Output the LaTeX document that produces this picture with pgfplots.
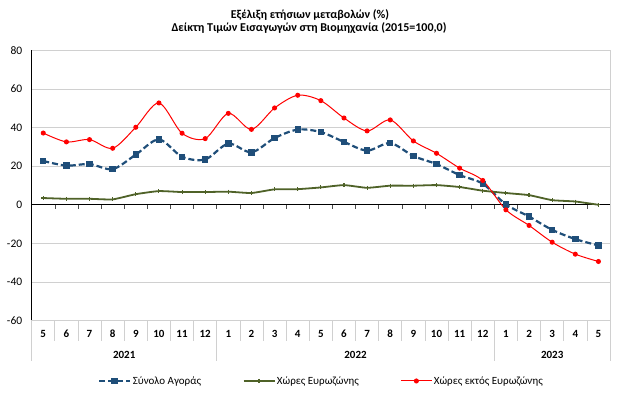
\documentclass[border=0pt]{standalone}
\usepackage{fontspec}
\setmainfont{Carlito}
\usepackage{pgfplots}
\pgfplotsset{compat=1.18}
\definecolor{cblue}{HTML}{1F4E79}
\definecolor{cgreen}{HTML}{4F6228}
\definecolor{cred}{HTML}{FF0000}
\definecolor{cgrid}{HTML}{D0D0D0}
\begin{document}
\begin{tikzpicture}[x=1pt,y=1pt]
\useasboundingbox (0,0) rectangle (623,393);
\node[font=\bfseries\fontsize{12}{14}\selectfont] at (310,378) {Εξέλιξη ετήσιων μεταβολών (\%)};
\node[font=\bfseries\fontsize{12}{14}\selectfont] at (309,364.5) {Δείκτη Τιμών Εισαγωγών στη Βιομηχανία (2015=100,0)};
\begin{axis}[
  at={(31.7pt,72.5pt)}, anchor=south west,
  scale only axis, width=578.3pt, height=270pt,
  xmin=-0.5, xmax=24.5, ymin=-60, ymax=80,
  ytick={-60,-40,...,80},
  yticklabels={{-60},{-40},{-20},0,20,40,60,80},
  xtick=\empty,
  ymajorgrids, grid style={cgrid, line width=0.7pt},
  axis line style={cgrid, line width=0.7pt},
  major tick length=0pt,
  ytick pos=left,
  yticklabel style={xshift=-6pt},
  tick label style={font=\fontsize{11.5}{13}\selectfont},
  clip=false,
  legend columns=3,
  legend style={at={(0.5006,-0.224)}, anchor=center, draw=none, fill=none,
    font=\fontsize{11}{13}\selectfont,
    nodes={inner sep=1.5pt},
    /tikz/every even column/.append style={column sep=40pt},
    /tikz/every odd column/.append style={column sep=0pt}},
  legend image code/.code={\draw[mark repeat=2,mark phase=2] plot coordinates {(0pt,0pt)(15.5pt,0pt)(31pt,0pt)};},
]
\draw[black, line width=0.7pt] (rel axis cs:0,0) -- (rel axis cs:0,1);
\draw[black, line width=0.9pt] (axis cs:-0.5,0) -- (axis cs:24.5,0);
\addplot[cblue, line width=2.2pt, dash pattern=on 6pt off 3pt, smooth, tension=0.5,
  mark=square*, mark size=2.1pt, mark options={solid, fill=cblue}] coordinates {
(0,22.7)(1,20.3)(2,21.1)(3,18.5)(4,26.0)(5,33.9)(6,24.9)(7,23.5)
(8,31.7)(9,27.2)(10,34.6)(11,39.0)(12,37.7)(13,32.6)(14,28.1)(15,32.0)
(16,25.3)(17,21.1)(18,15.4)(19,10.9)(20,0.2)(21,-6.1)(22,-13.0)(23,-17.8)(24,-21.1)};
\addlegendentry{Σύνολο Αγοράς}
\addplot[cgreen, line width=1.8pt, smooth, tension=0.3,
  mark=+, mark size=2pt, mark options={solid, line width=1.1pt}] coordinates {
(0,3.5)(1,3.1)(2,3.1)(3,2.8)(4,5.5)(5,7.1)(6,6.6)(7,6.6)
(8,6.8)(9,6.1)(10,8.0)(11,8.1)(12,9.0)(13,10.2)(14,8.8)(15,9.9)
(16,9.9)(17,10.2)(18,9.2)(19,7.3)(20,6.1)(21,5.0)(22,2.4)(23,1.7)(24,0.0)};
\addlegendentry{Χώρες Ευρωζώνης}
\addplot[cred, line width=1pt, smooth, tension=0.5,
  mark=*, mark size=2pt, mark options={solid, fill=cred}] coordinates {
(0,37.2)(1,32.6)(2,33.8)(3,29.3)(4,40.2)(5,52.8)(6,37.1)(7,34.3)
(8,47.4)(9,39.1)(10,50.2)(11,56.8)(12,54.0)(13,45.0)(14,38.3)(15,44.0)
(16,33.1)(17,26.7)(18,19.0)(19,12.6)(20,-2.6)(21,-10.7)(22,-19.4)(23,-25.6)(24,-29.4)};
\addlegendentry{Χώρες εκτός Ευρωζώνης}
\end{axis}
% zero-line category ticks
\foreach \i in {1,...,24} \draw[black!70, line width=0.6pt] ({31.7+23.132*\i},188.2) -- ++(0,-4);
% category separators
\foreach \i in {1,...,7,9,10,...,19,21,22,23,24} \draw[cgrid, line width=0.7pt] ({31.7+23.132*\i},72.5) -- ++(0,-20.5);
\foreach \i in {0,8,20,25} \draw[cgrid, line width=0.7pt] ({31.7+23.132*\i},72.5) -- ++(0,-41);
\foreach \m [count=\i from 0] in {5,6,7,8,9,10,11,12,1,2,3,4,5,6,7,8,9,10,11,12,1,2,3,4,5}
  \node[font=\bfseries\fontsize{11}{13}\selectfont] at ({31.7+23.132*(\i+0.5)},59) {\m};
\node[font=\bfseries\fontsize{11}{13}\selectfont] at (124.2,38) {2021};
\node[font=\bfseries\fontsize{11}{13}\selectfont] at (355.5,38) {2022};
\node[font=\bfseries\fontsize{11}{13}\selectfont] at (552.2,38) {2023};
\end{tikzpicture}
\end{document}
